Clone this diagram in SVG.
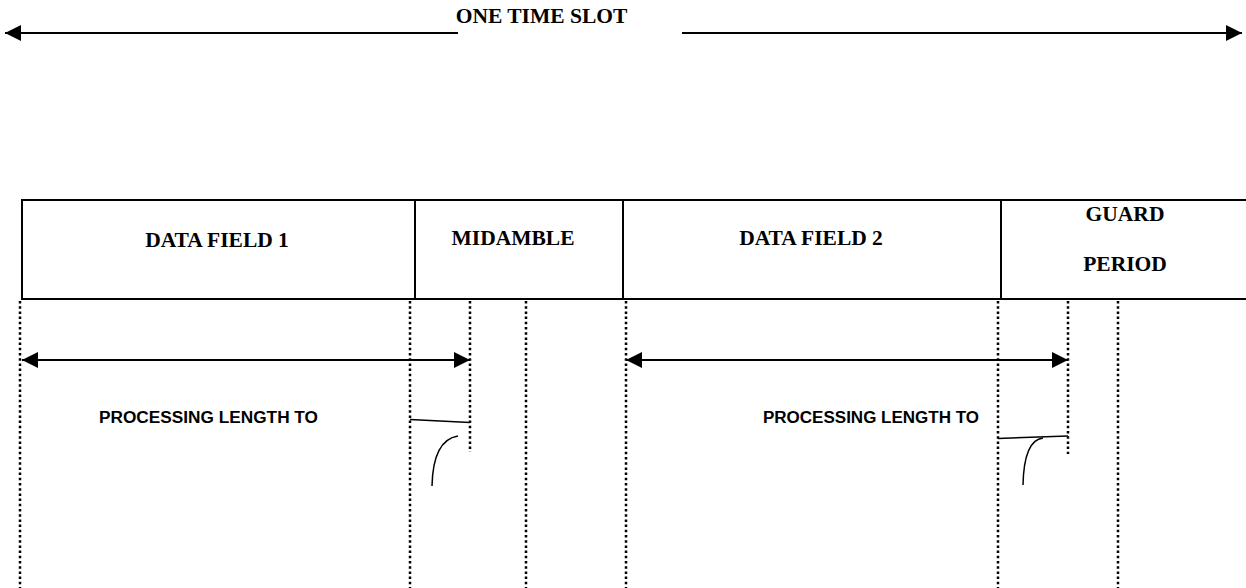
<svg xmlns="http://www.w3.org/2000/svg" width="1246" height="588" viewBox="0 0 1246 588">
  <style>
    .serif { font-family: "Liberation Serif", "Times New Roman", serif; font-weight: bold; font-size: 21.5px; fill: #000; }
    .sans { font-family: "Liberation Sans", Arial, sans-serif; font-weight: bold; font-size: 16px; fill: #000; }
    .solid { stroke: #000; stroke-width: 2; fill: none; }
    .thin { stroke: #000; stroke-width: 1.5; fill: none; }
    .dot { stroke: #000; stroke-width: 2.5; stroke-dasharray: 2.5 2.7; fill: none; }
  </style>
  <defs>
    <marker id="head" viewBox="0 0 16 16" refX="16" refY="8" markerWidth="16" markerHeight="16" markerUnits="userSpaceOnUse" orient="auto-start-reverse">
      <path d="M0,0 L16,8 L0,16 Z" fill="#000"/>
    </marker>
  </defs>
  <rect width="1246" height="588" fill="#fff"/>

  <!-- time slot span -->
  <g id="time-slot">
    <text class="serif" x="541.5" y="23" text-anchor="middle">ONE TIME SLOT</text>
  </g>

  <!-- burst fields -->
  <g id="data-field-1">
    <rect class="solid" x="22" y="200" width="393" height="99"/>
    <text class="serif" x="217" y="247" text-anchor="middle">DATA FIELD 1</text>
  </g>
  <g id="midamble">
    <rect class="solid" x="415" y="200" width="208" height="99"/>
    <text class="serif" x="513" y="245" text-anchor="middle">MIDAMBLE</text>
  </g>
  <g id="data-field-2">
    <rect class="solid" x="623" y="200" width="378" height="99"/>
    <text class="serif" x="811" y="245" text-anchor="middle">DATA FIELD 2</text>
  </g>
  <g id="guard-period">
    <path class="solid" d="M1001,200 H1250 M1001,299 H1250"/>
    <text class="serif" x="1125" y="221" text-anchor="middle">GUARD</text>
    <text class="serif" x="1125" y="271" text-anchor="middle">PERIOD</text>
  </g>

  <!-- processing labels -->
  <g id="processing-1">
    <text class="sans" x="99" y="423" textLength="219" lengthAdjust="spacingAndGlyphs">PROCESSING LENGTH TO</text>
  </g>
  <g id="processing-2">
    <text class="sans" x="763" y="423" textLength="216" lengthAdjust="spacingAndGlyphs">PROCESSING LENGTH TO</text>
  </g>

  <g id="connectors">
    <!-- one time slot arrows -->
    <line class="solid" x1="458" y1="33" x2="5" y2="33" marker-end="url(#head)"/>
    <line class="solid" x1="682" y1="33" x2="1242" y2="33" marker-end="url(#head)"/>

    <!-- dotted timing guides -->
    <line class="dot" x1="20" y1="301" x2="20" y2="588"/>
    <line class="dot" x1="410" y1="301" x2="410" y2="588"/>
    <line class="dot" x1="470" y1="301" x2="470" y2="452"/>
    <line class="dot" x1="526" y1="301" x2="526" y2="588"/>
    <line class="dot" x1="626" y1="301" x2="626" y2="588"/>
    <line class="dot" x1="998" y1="301" x2="998" y2="588"/>
    <line class="dot" x1="1068" y1="301" x2="1068" y2="454"/>
    <line class="dot" x1="1118" y1="301" x2="1118" y2="588"/>

    <!-- processing length arrows -->
    <line class="solid" x1="22" y1="360" x2="470" y2="360" marker-start="url(#head)" marker-end="url(#head)"/>
    <line class="solid" x1="626" y1="360" x2="1068" y2="360" marker-start="url(#head)" marker-end="url(#head)"/>

    <!-- tau marks -->
    <path class="thin" d="M410,419.5 L470,422.5"/>
    <path class="thin" d="M458,436 Q433,440 432,486"/>
    <path class="thin" d="M998,438.5 L1068,436"/>
    <path class="thin" d="M1043,438 Q1024,440 1023,485"/>
  </g>
</svg>
